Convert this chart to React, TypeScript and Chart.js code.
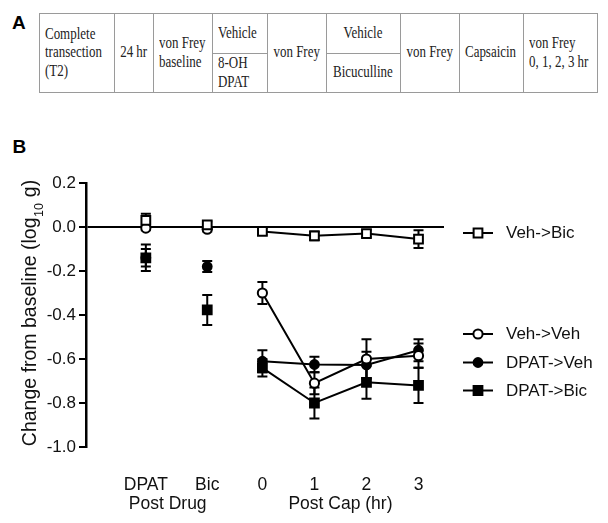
import React, { useEffect, useRef } from 'react';
import { Chart, registerables } from 'chart.js';

Chart.register(...registerables);

// ---------- data ----------
const xPositions = [-2.24, -1.06, 0, 1, 2, 3];
const xTickLabels = ['DPAT', 'Bic', '0', '1', '2', '3'];
const xGroupTitles = ['Post Drug', 'Post Cap (hr)'];
const seriesNames = ['Veh->Bic', 'Veh->Veh', 'DPAT->Veh', 'DPAT->Bic'];

const vehBicMean = [0.03, 0.01, -0.02, -0.04, -0.03, -0.055];
const vehBicErr = [0.03, 0.015, 0.015, 0.02, 0.015, 0.04];
const vehVehMean = [-0.005, -0.01, -0.3, -0.71, -0.6, -0.585];
const vehVehErr = [0.01, 0.01, 0.05, 0.05, 0.09, 0.055];
const dpatVehMean = [-0.14, -0.18, -0.61, -0.625, -0.627, -0.56];
const dpatVehErr = [0.04, 0.025, 0.05, 0.035, 0.06, 0.05];
const dpatBicMean = [-0.14, -0.377, -0.64, -0.8, -0.706, -0.72];
const dpatBicErr = [0.06, 0.068, 0.04, 0.07, 0.075, 0.08];

const yMin = -1.0;
const yMax = 0.2;
const yStep = 0.2;
const yTitleParts = ['Change from baseline (log', '10', ' g)'];

const protocolTexts = [
  ['Complete', 'transection', '(T2)'],
  ['24 hr'],
  ['von Frey', 'baseline'],
  ['Vehicle'],
  ['8-OH', 'DPAT'],
  ['von Frey'],
  ['Vehicle'],
  ['Bicuculline'],
  ['von Frey'],
  ['Capsaicin'],
  ['von Frey', '0, 1, 2, 3 hr'],
];

const seriesMeans = [vehBicMean, vehVehMean, dpatVehMean, dpatBicMean];
const seriesErrs = [vehBicErr, vehVehErr, dpatVehErr, dpatBicErr];

// ---------- styles ----------
const SANS = '"Liberation Sans", Arial, Helvetica, sans-serif';
const SERIF = '"Liberation Serif", "Times New Roman", serif';
const TXT = '#111';

const seriesStyle = [
  { shape: 'rect', fill: '#ffffff', radius: 6.2, order: 0 },
  { shape: 'circle', fill: '#ffffff', radius: 4.6, order: 1 },
  { shape: 'circle', fill: '#000000', radius: 4.4, order: 3 },
  { shape: 'rect', fill: '#000000', radius: 6.2, order: 2 },
];

function drawMarker(ctx: CanvasRenderingContext2D, st: any, x: number, y: number) {
  ctx.save();
  ctx.beginPath();
  if (st.shape === 'rect') {
    const s = Math.SQRT1_2 * st.radius;
    ctx.rect(x - s, y - s, 2 * s, 2 * s);
  } else {
    ctx.arc(x, y, st.radius, 0, Math.PI * 2);
  }
  ctx.fillStyle = st.fill;
  ctx.fill();
  ctx.lineWidth = 2;
  ctx.strokeStyle = '#000';
  ctx.stroke();
  ctx.restore();
}

const errorBarPlugin = {
  id: 'errorBars',
  beforeDatasetsDraw(chart: any) {
    const ctx = chart.ctx as CanvasRenderingContext2D;
    const xs = chart.scales.x;
    const ys = chart.scales.y;
    ctx.save();
    ctx.strokeStyle = '#000';
    ctx.lineWidth = 2;
    seriesMeans.forEach((means, si) => {
      means.forEach((m, j) => {
        const e = seriesErrs[si][j];
        const px = xs.getPixelForValue(xPositions[j]);
        const t = ys.getPixelForValue(m + e);
        const b = ys.getPixelForValue(m - e);
        ctx.beginPath();
        ctx.moveTo(px, t);
        ctx.lineTo(px, b);
        ctx.moveTo(px - 5, t);
        ctx.lineTo(px + 5, t);
        ctx.moveTo(px - 5, b);
        ctx.lineTo(px + 5, b);
        ctx.stroke();
      });
    });
    ctx.restore();
  },
};

const annotationPlugin = {
  id: 'annotations',
  afterDraw(chart: any) {
    const ctx = chart.ctx as CanvasRenderingContext2D;
    const area = chart.chartArea;
    const xs = chart.scales.x;

    // y-axis title with subscript
    ctx.save();
    ctx.translate(36, (area.top + area.bottom) / 2 - 1.5);
    ctx.rotate(-Math.PI / 2);
    ctx.fillStyle = TXT;
    ctx.textBaseline = 'alphabetic';
    ctx.textAlign = 'left';
    const big = `19.5px ${SANS}`;
    const small = `12.5px ${SANS}`;
    ctx.font = big;
    const w1 = ctx.measureText(yTitleParts[0]).width;
    const w3 = ctx.measureText(yTitleParts[2]).width;
    ctx.font = small;
    const w2 = ctx.measureText(yTitleParts[1]).width;
    let tx = -(w1 + w2 + w3) / 2;
    ctx.font = big;
    ctx.fillText(yTitleParts[0], tx, 0);
    tx += w1;
    ctx.font = small;
    ctx.fillText(yTitleParts[1], tx + 0.5, 7);
    tx += w2 + 1;
    ctx.font = big;
    ctx.fillText(yTitleParts[2], tx, 0);
    ctx.restore();

    // x group titles
    ctx.save();
    ctx.fillStyle = TXT;
    ctx.font = `17.5px ${SANS}`;
    ctx.textAlign = 'center';
    ctx.textBaseline = 'middle';
    const groupCenters = [xs.getPixelForValue(-1.82), xs.getPixelForValue(1.5)];
    xGroupTitles.forEach((t, i) => ctx.fillText(t, groupCenters[i], area.bottom + 57));
    ctx.restore();

    // legend
    const legendOffsets = [50, 151, 179.5, 207.5];
    ctx.save();
    seriesNames.forEach((name, i) => {
      const y = area.top + legendOffsets[i];
      const x0 = area.right + 19;
      ctx.beginPath();
      ctx.strokeStyle = '#000';
      ctx.lineWidth = 2;
      ctx.moveTo(x0, y);
      ctx.lineTo(x0 + 30, y);
      ctx.stroke();
      drawMarker(ctx, seriesStyle[i], x0 + 15, y);
      ctx.fillStyle = TXT;
      ctx.font = `17px ${SANS}`;
      ctx.textAlign = 'left';
      ctx.textBaseline = 'middle';
      ctx.fillText(name, area.right + 62, y + 0.5);
    });
    ctx.restore();
  },
};

function fmtY(v: number) {
  if (Math.abs(v) < 1e-9) return '0.0';
  return v.toFixed(1);
}

function ChartView() {
  const ref = useRef<HTMLCanvasElement | null>(null);
  useEffect(() => {
    if (!ref.current) return;
    const datasets = seriesNames.map((name, i) => ({
      label: name,
      data: xPositions.map((x, j) => ({ x, y: seriesMeans[i][j] })),
      borderColor: '#000',
      borderWidth: 2,
      pointStyle: seriesStyle[i].shape,
      pointRadius: seriesStyle[i].radius,
      pointBackgroundColor: seriesStyle[i].fill,
      pointBorderColor: '#000',
      pointBorderWidth: 2,
      fill: false,
      tension: 0,
      order: seriesStyle[i].order,
      clip: false,
      segment: {
        borderColor: (c: any) => (c.p0.parsed.x < -0.5 ? 'rgba(0,0,0,0)' : '#000'),
      },
    }));
    const chart = new Chart(ref.current, {
      type: 'line',
      data: { datasets },
      plugins: [errorBarPlugin, annotationPlugin],
      options: {
        animation: false,
        responsive: false,
        devicePixelRatio: 1,
        layout: { padding: { left: 0, right: 164, top: 73, bottom: 0 } },
        plugins: { legend: { display: false }, tooltip: { enabled: false } },
        scales: {
          x: {
            type: 'linear',
            min: -3.39,
            max: 3.49,
            bounds: 'data',
            grid: { display: false },
            border: { display: false },
            afterBuildTicks: (s: any) => {
              s.ticks = xPositions.map((v) => ({ value: v }));
            },
            afterFit: (s: any) => {
              s.height = 76;
            },
            ticks: {
              autoSkip: false,
              maxRotation: 0,
              padding: 20,
              color: TXT,
              font: { size: 17.5, family: SANS },
              callback: (_v: any, i: number) => xTickLabels[i],
            },
          },
          y: {
            type: 'linear',
            min: yMin,
            max: yMax,
            afterFit: (s: any) => {
              s.width = 86;
            },
            ticks: {
              stepSize: yStep,
              padding: 3,
              color: TXT,
              font: { size: 17, family: SANS },
              callback: (v: any) => fmtY(Number(v)),
            },
            grid: {
              drawOnChartArea: true,
              color: (c: any) =>
                c.tick && Math.abs(c.tick.value) < 1e-9 ? '#000' : 'rgba(0,0,0,0)',
              lineWidth: 2,
              tickColor: '#000',
              tickWidth: 2,
              tickLength: 7,
            },
            border: { display: true, color: '#000', width: 2.5 },
          },
        },
      } as any,
    });
    return () => chart.destroy();
  }, []);
  return (
    <canvas
      ref={ref}
      width={608}
      height={413}
      style={{ position: 'absolute', left: 0, top: 110, width: 608, height: 413 }}
    />
  );
}

const cols = [39, 114, 153, 212, 267, 326, 400, 459, 523, 597];
const tTop = 13;
const tMid = 53;
const tBot = 92;
const LINE = '#9a9a9a';

function Cell({ x0, x1, y0, y1, lines, align }: any) {
  return (
    <div
      style={{
        position: 'absolute',
        left: x0,
        top: y0,
        width: x1 - x0,
        height: y1 - y0,
        display: 'flex',
        alignItems: 'center',
        justifyContent: align === 'left' ? 'flex-start' : 'center',
        paddingLeft: align === 'left' ? 6 : 0,
        boxSizing: 'border-box',
      }}
    >
      <span
        style={{
          display: 'inline-block',
          whiteSpace: 'nowrap',
          fontFamily: SERIF,
          fontSize: 16,
          lineHeight: '18.3px',
          color: '#222',
          transform: 'scaleX(0.81)',
          transformOrigin: align === 'left' ? 'left center' : 'center center',
          textAlign: 'left',
        }}
      >
        {lines.map((l: string, i: number) => (
          <div key={i}>{l}</div>
        ))}
      </span>
    </div>
  );
}

function ProtocolTable() {
  const cells = [
    { x0: cols[0], x1: cols[1], y0: tTop, y1: tBot, lines: protocolTexts[0], align: 'left' },
    { x0: cols[1], x1: cols[2], y0: tTop, y1: tBot, lines: protocolTexts[1], align: 'center' },
    { x0: cols[2], x1: cols[3], y0: tTop, y1: tBot, lines: protocolTexts[2], align: 'left' },
    { x0: cols[3], x1: cols[4], y0: tTop, y1: tMid, lines: protocolTexts[3], align: 'left' },
    { x0: cols[3], x1: cols[4], y0: tMid, y1: tBot, lines: protocolTexts[4], align: 'left' },
    { x0: cols[4], x1: cols[5], y0: tTop, y1: tBot, lines: protocolTexts[5], align: 'center' },
    { x0: cols[5], x1: cols[6], y0: tTop, y1: tMid, lines: protocolTexts[6], align: 'center' },
    { x0: cols[5], x1: cols[6], y0: tMid, y1: tBot, lines: protocolTexts[7], align: 'center' },
    { x0: cols[6], x1: cols[7], y0: tTop, y1: tBot, lines: protocolTexts[8], align: 'center' },
    { x0: cols[7], x1: cols[8], y0: tTop, y1: tBot, lines: protocolTexts[9], align: 'center' },
    { x0: cols[8], x1: cols[9], y0: tTop, y1: tBot, lines: protocolTexts[10], align: 'left' },
  ];
  const hLines = [
    { x0: cols[0], x1: cols[9], y: tTop },
    { x0: cols[0], x1: cols[9], y: tBot },
    { x0: cols[3], x1: cols[4], y: tMid },
    { x0: cols[5], x1: cols[6], y: tMid },
  ];
  return (
    <>
      {hLines.map((h, i) => (
        <div
          key={'h' + i}
          style={{ position: 'absolute', left: h.x0, top: h.y, width: h.x1 - h.x0 + 1, height: 1, background: LINE }}
        />
      ))}
      {cols.map((c, i) => (
        <div
          key={'v' + i}
          style={{ position: 'absolute', left: c, top: tTop, width: 1, height: tBot - tTop + 1, background: LINE }}
        />
      ))}
      {cells.map((c, i) => (
        <Cell key={i} {...c} />
      ))}
    </>
  );
}

export default function App() {
  const label = (t: string, top: number, left: number) => (
    <div
      style={{
        position: 'absolute',
        left,
        top,
        fontFamily: SANS,
        fontWeight: 'bold',
        fontSize: 19,
        lineHeight: '19px',
        color: '#000',
      }}
    >
      {t}
    </div>
  );
  return (
    <div style={{ position: 'absolute', left: 0, top: 0, width: 608, height: 523, background: '#fff', overflow: 'hidden' }}>
      {label('A', 12.5, 12)}
      <ProtocolTable />
      {label('B', 137, 12.5)}
      <ChartView />
    </div>
  );
}
